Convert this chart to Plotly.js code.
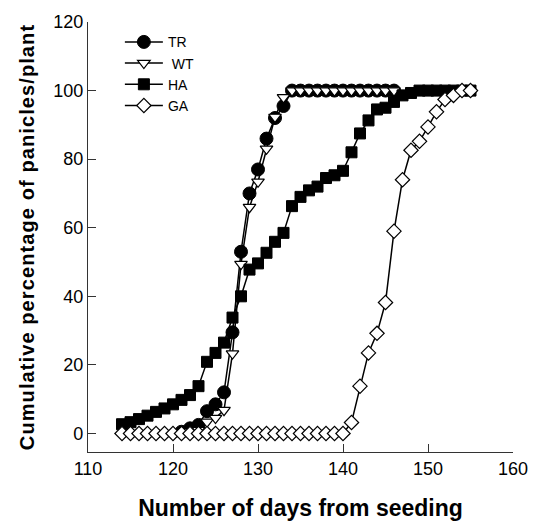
<!DOCTYPE html>
<html>
<head>
<meta charset="utf-8">
<script src="https://cdn.plot.ly/plotly-3.0.1.min.js"></script>
<style>
html,body{margin:0;padding:0;background:#fff;}
#chart{width:536px;height:521px;}
#chart .ytitle{letter-spacing:1.1px;}
</style>
</head>
<body>
<div id="chart"></div>
<script>
var trDays = [121,122,123,124,125,126,127,128,129,130,131,132,133,134,135,136,137,138,139,140,141,142,143,144,145,146];
var trVals = [0.5,1.5,2.5,6.5,8.5,12,29.5,53,70,77,86,92,95.5,100,100,100,100,100,100,100,100,100,100,100,100,100];

var wtDays = [122,123,124,125,126,127,128,129,130,131,132,133,134,135,136,137,138,139,140,141,142,143,144,145,146];
var wtVals = [0.5,1,3.4,4.5,6.8,23.3,49.4,66,73.4,83,92.3,98,100,100,100,100,100,100,100,100,100,100,100,100,100];

var haDays = [114,115,116,117,118,119,120,121,122,123,124,125,126,127,128,129,130,131,132,133,134,135,136,137,138,139,140,141,142,143,144,145,146,147,148,149,150,151,152,153,154,155];
var haVals = [2.7,3.3,4.2,5.2,6.3,7.3,8.5,9.8,11.2,13.8,20.9,23.5,26.5,33.8,40,47.8,49.6,52.7,55.9,58.5,66.3,69,70.9,72,74.5,75.3,76.6,82,87.5,91.3,94.5,95,96.7,98.6,99.3,100,100,100,100,100,100,100];

var gaDays = [114,115,116,117,118,119,120,121,122,123,124,125,126,127,128,129,130,131,132,133,134,135,136,137,138,139,140,141,142,143,144,145,146,147,148,149,150,151,152,153,154,155];
var gaVals = [0,0,0,0,0,0,0,0,0,0,0,0,0,0,0,0,0,0,0,0,0,0,0,0,0,0,0,3.2,13.8,23.5,29.2,38.2,59,74,82.6,85.2,89.4,93.8,97.4,98.6,100,100];

var xTicks = [110,120,130,140,150,160];
var yTicks = [0,20,40,60,80,100,120];

var lineStyle = {color:'#000', width:1.5};
var traces = [
  {x:trDays, y:trVals, name:'TR', mode:'lines+markers', line:lineStyle,
   marker:{symbol:'circle', size:13, color:'#000', line:{color:'#000', width:1}}},
  {x:wtDays, y:wtVals, name:'\u00A0WT', mode:'lines+markers', line:lineStyle,
   marker:{symbol:'triangle-down', size:11, color:'#fff', line:{color:'#000', width:1.2}}},
  {x:haDays, y:haVals, name:'HA', mode:'lines+markers', line:lineStyle,
   marker:{symbol:'square', size:11, color:'#000', line:{color:'#000', width:1}}},
  {x:gaDays, y:gaVals, name:'GA', mode:'lines+markers', line:lineStyle,
   marker:{symbol:'diamond', size:11, color:'#fff', line:{color:'#000', width:1.2}}}
];

var layout = {
  width:536, height:521,
  margin:{l:88, r:23, t:22, b:69, pad:0},
  paper_bgcolor:'#fff', plot_bgcolor:'#fff',
  font:{family:'Liberation Sans, Arial, sans-serif', color:'#000', size:18},
  showlegend:true,
  legend:{x:0.075, y:0.99, xanchor:'left', yanchor:'top', bgcolor:'rgba(0,0,0,0)', itemwidth:38,
          font:{size:14, family:'Liberation Sans, Arial, sans-serif'}, tracegroupgap:0},
  xaxis:{range:[110,160], tickvals:xTicks, ticktext:xTicks.map(String), ticks:'inside', ticklen:8,
         tickcolor:'#333', showline:true, linecolor:'#333', linewidth:1.2, showgrid:false, zeroline:false,
         tickfont:{size:18}, automargin:false,
         title:{text:'<b>Number of days from seeding</b>', font:{size:23}, standoff:27}},
  yaxis:{range:[-5.4,120], tickvals:yTicks, ticktext:yTicks.map(String), ticks:'inside', ticklen:8,
         tickcolor:'#333', showline:true, linecolor:'#333', linewidth:1.2, showgrid:false, zeroline:false,
         tickfont:{size:18}, automargin:false,
         title:{text:'<b>Cumulative percentage of panicles/plant</b>', font:{size:20}, standoff:13}}
};

Plotly.newPlot('chart', traces, layout, {displayModeBar:false, staticPlot:true});
</script>
</body>
</html>
